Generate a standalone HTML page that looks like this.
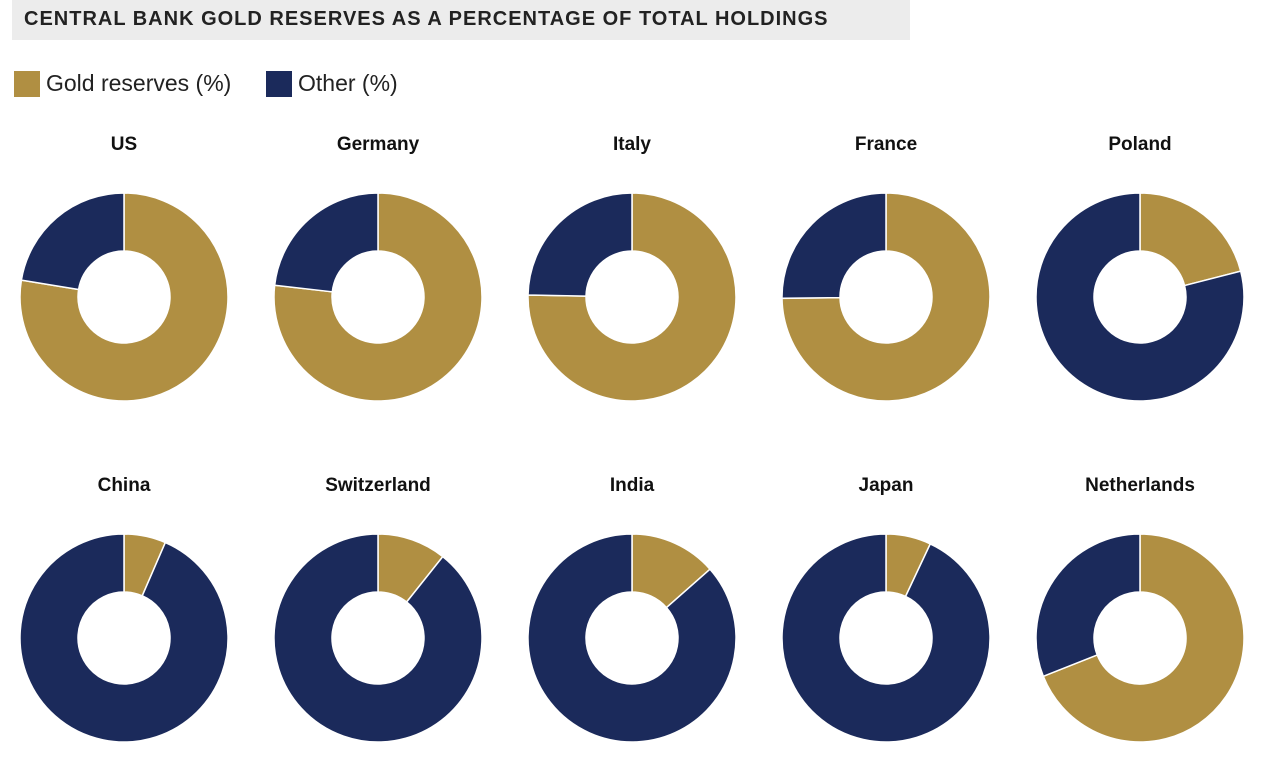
<!DOCTYPE html>
<html><head><meta charset="utf-8"><style>
body{margin:0;width:1280px;height:782px;background:#fff;font-family:"Liberation Sans",sans-serif;overflow:hidden;position:relative}
#title{position:absolute;left:12px;top:0;width:898px;height:40px;background:#ececec;font-size:20px;letter-spacing:1px;color:#222;line-height:38px;padding-left:12px;box-sizing:border-box;font-weight:bold;white-space:nowrap;overflow:hidden}
.leg{position:absolute;top:70px;display:flex;align-items:center;font-size:23px;color:#222}
.sw{width:26px;height:26px;margin-right:6px}
</style></head><body>
<div id="title">CENTRAL BANK GOLD RESERVES AS A PERCENTAGE OF TOTAL HOLDINGS</div>
<div class="leg" style="left:14px"><div class="sw" style="background:#b08f42"></div>Gold reserves (%)</div>
<div class="leg" style="left:266px"><div class="sw" style="background:#1b2a5b"></div>Other (%)</div>
<svg id="chart" width="1280" height="782" style="position:absolute;left:0;top:0"></svg>
<script>
const countries=["US","Germany","Italy","France","Poland","China","Switzerland","India","Japan","Netherlands"];
const goldPct=[77.6,76.8,75.3,74.8,21,6.5,10.7,13.5,7,69];
const svg=document.getElementById('chart');
const NS="http://www.w3.org/2000/svg";
const R=104,r=46;
function pt(cx,cy,rad,frac){const a=frac*2*Math.PI;return [cx+rad*Math.sin(a),cy-rad*Math.cos(a)];}
function arc(cx,cy,f0,f1){
  const large=(f1-f0)>0.5?1:0;
  const [x0,y0]=pt(cx,cy,R,f0),[x1,y1]=pt(cx,cy,R,f1),[x2,y2]=pt(cx,cy,r,f1),[x3,y3]=pt(cx,cy,r,f0);
  return `M${x0},${y0}A${R},${R} 0 ${large} 1 ${x1},${y1}L${x2},${y2}A${r},${r} 0 ${large} 0 ${x3},${y3}Z`;
}
countries.forEach((c,i)=>{
  const cx=124+(i%5)*254, cy=i<5?297:638;
  const g=document.createElementNS(NS,'g');
  
  
  const t=document.createElementNS(NS,'text');
  t.setAttribute('x',cx);t.setAttribute('y',cy-147);t.setAttribute('text-anchor','middle');
  t.setAttribute('font-size','19');t.setAttribute('font-weight','bold');t.setAttribute('fill','#111');
  t.setAttribute('font-family','Liberation Sans, sans-serif');
  t.textContent=c;
  
  
  g.appendChild(t);
  const f=goldPct[i]/100;
  const p1=document.createElementNS(NS,'path');
  p1.setAttribute('d',arc(cx,cy,0,f));p1.setAttribute('fill','#b08f42');p1.setAttribute('stroke','#fff');p1.setAttribute('stroke-width','1.5');
  
  
  const p2=document.createElementNS(NS,'path');
  p2.setAttribute('d',arc(cx,cy,f,1));p2.setAttribute('fill','#1b2a5b');p2.setAttribute('stroke','#fff');p2.setAttribute('stroke-width','1.5');
  
  
  g.appendChild(p1);g.appendChild(p2);
  svg.appendChild(g);
});
</script>
</body></html>
